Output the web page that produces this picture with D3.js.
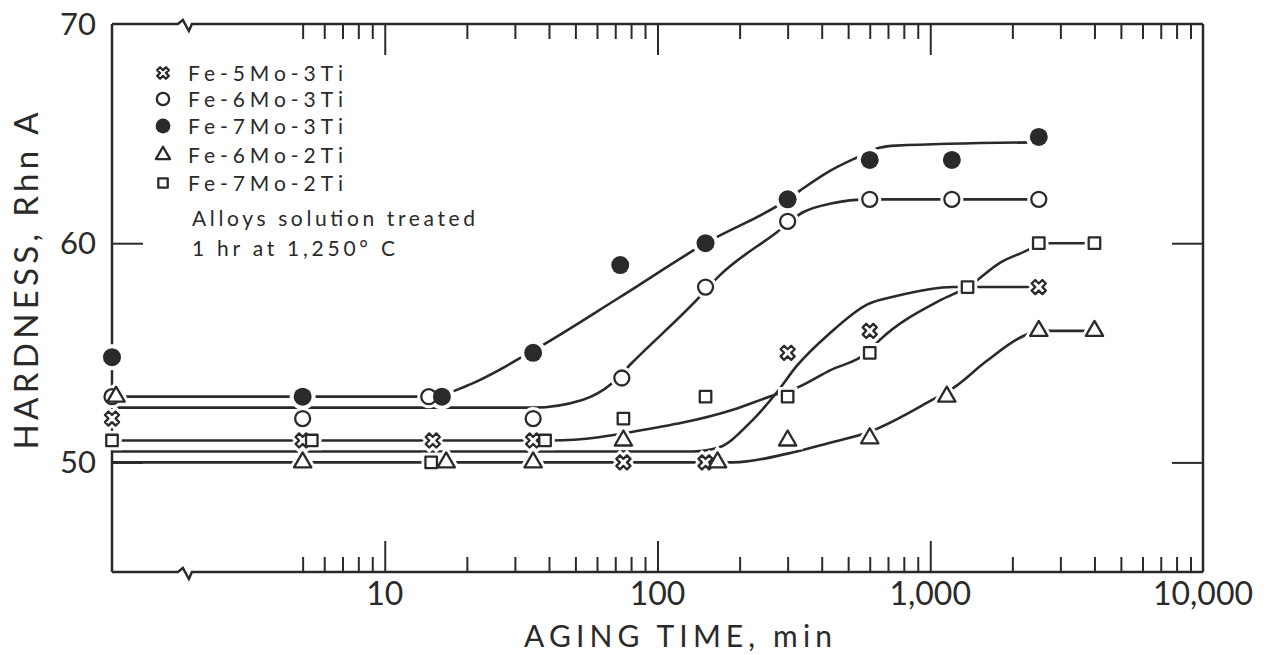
<!DOCTYPE html>
<html>
<head>
<meta charset="utf-8">
<script src="https://cdn.jsdelivr.net/npm/d3@7"></script>
<style>
  body { margin: 0; background: #fff; }
  text { font-family: Lato, "Open Sans", sans-serif; fill: #2a2a2a; }
</style>
</head>
<body>
<div id="chart"></div>
<script>
// alloys, in legend order
const seriesNames = ["Fe-5Mo-3Ti", "Fe-6Mo-3Ti", "Fe-7Mo-3Ti", "Fe-6Mo-2Ti", "Fe-7Mo-2Ti"];
const symbolKinds = ["cross", "open", "filled", "triangle", "square"];

// measured points [aging time (min), hardness]; the as-treated value sits on the axis at 1
const pts5Mo3Ti = [[1,52],[5,51],[15,51],[35,51],[75,50],[150,50],[300,55],[600,56],[2500,58]];
const pts6Mo3Ti = [[1,53],[5,52],[14.5,53],[35,52],[74,53.85],[150,58],[300,61],[600,62],[1200,62],[2500,62]];
const pts7Mo3Ti = [[1,54.8],[5,53],[16.2,53],[35,55],[73,59],[150,60],[300,62],[600,63.8],[1200,63.8],[2500,64.85]];
const pts6Mo2Ti = [[1.035,53],[5,50],[16.8,50],[35,50],[75,51],[166,50],[300,51],[600,51.1],[1150,53],[2500,56],[4000,56]];
const pts7Mo2Ti = [[1,51],[5.4,51],[14.8,50],[38.7,51],[75,52],[150,53],[300,53],[600,55],[1370,58],[2500,60],[4000,60]];

// hand-drawn fit curves
const fit5Mo3Ti = [[1,50.5],[135,50.5],[169,50.7],[218,51.8],[274,53.2],[324,54.4],[429,55.9],[586,57.2],[757,57.6],[1216,58],[2500,58]];
const fit6Mo3Ti = [[1,52.5],[35,52.5],[53,52.85],[68,53.6],[80,54.5],[139,57.4],[168,58.5],[274,60.5],[340,61.4],[428,61.8],[600,62],[2500,62]];
const fit7Mo3Ti = [[1,53],[15,53],[20,53.5],[35,55.1],[72,57.5],[150,60],[300,62],[333,62.4],[429,63.3],[537,63.9],[650,64.35],[750,64.45],[2400,64.6]];
const fit6Mo2Ti = [[1,50],[190,50],[300,50.4],[429,50.9],[600,51.4],[1016,52.85],[1216,53.4],[1600,54.6],[2140,55.7],[2500,56],[4000,56]];
const fit7Mo2Ti = [[1,51],[41,51],[61,51.15],[77,51.35],[189,52.4],[265,53.05],[324,53.4],[429,54.2],[586,55],[655,55.6],[1089,57.4],[1370,58],[1800,59.1],[2400,59.85],[2500,60],[4000,60]];

const pointSets = [pts5Mo3Ti, pts6Mo3Ti, pts7Mo3Ti, pts6Mo2Ti, pts7Mo2Ti];
const fitSets = [fit5Mo3Ti, fit6Mo3Ti, fit7Mo3Ti, fit6Mo2Ti, fit7Mo2Ti];

// axis ticks
const xMajor = [10, 100, 1000];
const xLabels = [10, 100, 1000, 10000];
const xMinor = [5,6,7,8,9, 20,30,40,50,60,70,80,90, 200,300,400,500,600,700,800,900,
                2000,3000,4000,5000,6000,7000,8000,9000];
const yTicks = [50, 60];
const yLabels = [50, 60, 70];
const xBreak = 1.85;

const noteLines = ["Alloys solution treated", "1 hr at 1,250\u00b0 C"];

const ink = "#2a2a2a";
const width = 1276, height = 655;
const x = d3.scaleLog().domain([1, 10000]).range([112, 1203]);
const y = d3.scaleLinear().domain([45, 70]).range([572, 24]);

const svg = d3.select("#chart").append("svg")
  .attr("width", width).attr("height", height);

// frame, with the break marks on top and bottom
const bx = x(xBreak);
function axisWithBreak(yy) {
  return `M${x.range()[0]},${yy} L${bx - 7},${yy} L${bx - 2},${yy - 4} L${bx + 4},${yy + 7} L${bx + 7},${yy} L${x.range()[1]},${yy}`;
}
svg.append("path").attr("d", axisWithBreak(y(70)))
  .attr("fill", "none").attr("stroke", ink).attr("stroke-width", 2.5);
svg.append("path").attr("d", axisWithBreak(y(45)))
  .attr("fill", "none").attr("stroke", ink).attr("stroke-width", 2.5);
svg.append("line").attr("x1", x.range()[0]).attr("x2", x.range()[0])
  .attr("y1", y(70)).attr("y2", y(45)).attr("stroke", ink).attr("stroke-width", 2.5);
svg.append("line").attr("x1", x.range()[1]).attr("x2", x.range()[1])
  .attr("y1", y(70)).attr("y2", y(45)).attr("stroke", ink).attr("stroke-width", 2.5);

// tick marks, pointing in
function tickGroup(axis, tx, ty) {
  const g = svg.append("g").attr("transform", `translate(${tx},${ty})`).call(axis);
  g.select(".domain").remove();
  g.selectAll(".tick line").attr("stroke", ink).attr("stroke-width", 2);
  return g;
}
tickGroup(d3.axisBottom(x).tickValues(xMinor).tickSize(-15).tickFormat(""), 0, y(45));
tickGroup(d3.axisBottom(x).tickValues(xMajor).tickSize(-31).tickFormat(""), 0, y(45));
tickGroup(d3.axisTop(x).tickValues(xMinor).tickSize(-15).tickFormat(""), 0, y(70));
tickGroup(d3.axisTop(x).tickValues(xMajor).tickSize(-31).tickFormat(""), 0, y(70));
tickGroup(d3.axisLeft(y).tickValues(yTicks).tickSize(-31).tickFormat(""), x.range()[0], 0);
tickGroup(d3.axisRight(y).tickValues(yTicks).tickSize(-31).tickFormat(""), x.range()[1], 0);

// tick labels
svg.selectAll(".xlab").data(xLabels).enter().append("text")
  .attr("class", "xlab")
  .attr("x", d => x(d)).attr("y", 605)
  .attr("text-anchor", "middle")
  .style("font-size", "32px")
  .text(d => d3.format(",")(d));

svg.selectAll(".ylab").data(yLabels).enter().append("text")
  .attr("class", "ylab")
  .attr("x", 96).attr("y", d => y(d) + 11)
  .attr("text-anchor", "end")
  .style("font-size", "31px")
  .text(d => d);

// axis titles
svg.append("text")
  .attr("x", 678).attr("y", 647)
  .attr("text-anchor", "middle")
  .attr("textLength", 308).attr("lengthAdjust", "spacing")
  .style("font-size", "30px")
  .text("AGING TIME, min");

svg.append("text")
  .attr("transform", "translate(38,281) rotate(-90)")
  .attr("text-anchor", "middle")
  .attr("textLength", 337).attr("lengthAdjust", "spacing")
  .style("font-size", "33px")
  .text("HARDNESS, Rhn A");

// fit curves
const line = d3.line()
  .x(d => x(d[0])).y(d => y(d[1]))
  .curve(d3.curveMonotoneX);

svg.selectAll(".fit").data(fitSets).enter().append("path")
  .attr("class", "fit")
  .attr("d", line)
  .attr("fill", "none")
  .attr("stroke", ink)
  .attr("stroke-width", 2.6);

// marker shapes
function symbolPath(kind, scale) {
  if (kind === "cross") return d3.symbol(d3.symbolCross, 125 * scale * scale)();
  if (kind === "triangle") return d3.symbol(d3.symbolTriangle, 130 * scale * scale)();
  if (kind === "square") return d3.symbol(d3.symbolSquare, 132 * scale * scale)();
  const r = kind === "filled" ? 9 : 7.5;
  return d3.symbol(d3.symbolCircle, Math.PI * r * r * scale * scale)();
}
function drawMarker(g, kind, scale, halo) {
  const p = g.append("path")
    .attr("d", symbolPath(kind, scale))
    .attr("transform", kind === "cross" ? "rotate(45)" : null);
  if (halo) {
    p.attr("fill", "#fff").attr("stroke", "#fff").attr("stroke-width", 8);
  } else {
    p.attr("fill", kind === "filled" ? ink : "#fff")
      .attr("stroke", ink)
      .attr("stroke-width", kind === "filled" ? 0 : 2.3)
      .attr("stroke-linejoin", "round");
  }
}

// white halos first so the lines break round each marker
pointSets.forEach((pts, i) => {
  pts.forEach(d => {
    const g = svg.append("g").attr("transform", `translate(${x(d[0])},${y(d[1])})`);
    drawMarker(g, symbolKinds[i], 1, true);
  });
});
pointSets.forEach((pts, i) => {
  pts.forEach(d => {
    const g = svg.append("g").attr("transform", `translate(${x(d[0])},${y(d[1])})`);
    drawMarker(g, symbolKinds[i], 1, false);
  });
});

// legend
const legendRows = [73, 99, 126, 155, 183];
seriesNames.forEach((name, i) => {
  const g = svg.append("g").attr("transform", `translate(163,${legendRows[i]})`);
  drawMarker(g, symbolKinds[i], 0.82, false);
  svg.append("text")
    .attr("x", 188).attr("y", legendRows[i] + 7.5)
    .attr("textLength", 155).attr("lengthAdjust", "spacing")
    .style("font-size", "21px")
    .text(name);
});

// note
const noteWidths = [283, 203];
noteLines.forEach((t, i) => {
  svg.append("text")
    .attr("x", 192).attr("y", 226 + i * 30)
    .attr("textLength", noteWidths[i]).attr("lengthAdjust", "spacing")
    .style("font-size", "21px")
    .text(t);
});
</script>
</body>
</html>
